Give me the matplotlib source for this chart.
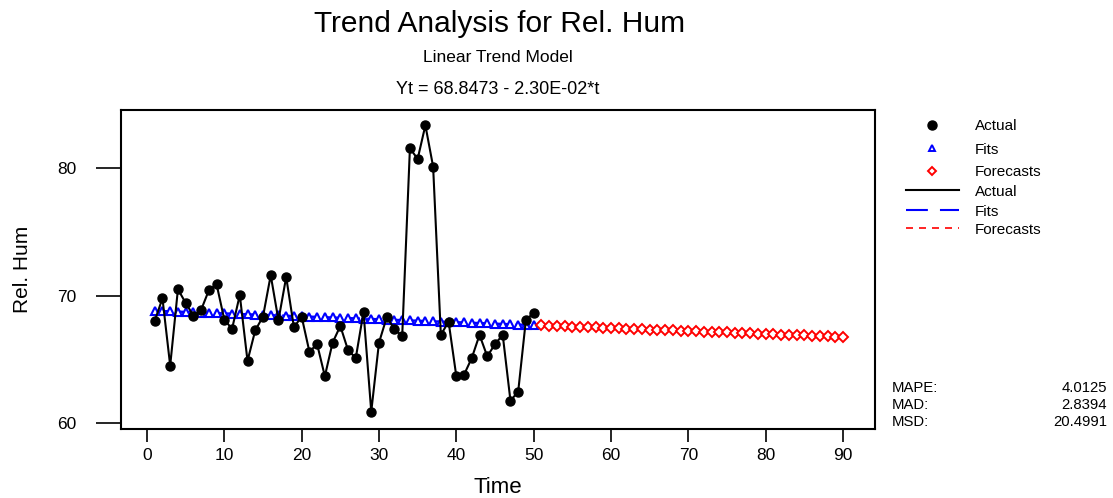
import matplotlib
matplotlib.use("Agg")
import matplotlib.pyplot as plt
import numpy as np
from matplotlib.lines import Line2D

plt.rcParams['font.family'] = ['Liberation Sans', 'DejaVu Sans']

# ---- data ----
time_actual = list(range(1, 51))
rel_hum = [68.02, 69.80, 64.52, 70.51, 69.44, 68.44, 68.89, 70.43, 70.90, 68.13,
           67.40, 70.06, 64.89, 67.29, 68.36, 71.61, 68.08, 71.47, 67.53, 68.36,
           65.62, 66.20, 63.69, 66.32, 67.63, 65.73, 65.12, 68.73, 60.91, 66.32,
           68.31, 67.40, 66.82, 81.57, 80.73, 83.37, 80.13, 66.93, 67.97, 63.69,
           63.81, 65.12, 66.93, 65.25, 66.20, 66.93, 61.77, 62.48, 68.13, 68.63]
intercept = 68.8473
slope = -2.30e-02
time_forecast = list(range(51, 91))
fits = [68.8473 - 0.0230 * t for t in time_actual]
forecasts = [68.8473 - 0.0230 * t for t in time_forecast]
xticks = [0, 10, 20, 30, 40, 50, 60, 70, 80, 90]
yticks = [60, 70, 80]
accuracy_names = ["MAPE:", "MAD:", "MSD:"]
accuracy_values = ["4.0125", "2.8394", "20.4991"]

W, H = 1113, 498
fig = plt.figure(figsize=(W / 100, H / 100), dpi=100)

def fx(x):
    return x / W

def fy(y):
    return 1 - y / H

L, R, T, B = 121, 875, 110, 429
ax = fig.add_axes([fx(L), fy(B), (R - L) / W, (B - T) / H])

ax.plot(time_actual, rel_hum, color='black', lw=1.5, marker='o', ms=6.5,
        mfc='black', mec='black', zorder=3)
ax.plot(time_actual, fits, color='blue', lw=1.7, ls=(0, (6, 3)), marker='^',
        ms=5.5, mfc='white', mec='blue', mew=1.5, zorder=2)
ax.plot(time_forecast, forecasts, color='red', lw=1.2, ls=(0, (3, 3)), marker='D',
        ms=5, mfc='white', mec='red', mew=1.4, zorder=2)

ax.set_xlim(-3.36, 94.14)
ax.set_ylim(59.55, 84.57)
ax.set_xticks(xticks)
ax.set_yticks(yticks)
for s in ax.spines.values():
    s.set_linewidth(1.5)
ax.tick_params(axis='x', length=9, width=1.2, pad=5, labelsize=12.5)
ax.tick_params(axis='y', length=18, width=1.2, pad=14, labelsize=12.5)

ax.set_xlabel("Time", fontsize=16, labelpad=10)
ax.set_ylabel("Rel. Hum", fontsize=15, labelpad=18)

# titles
fig.text(fx(500), fy(32), "Trend Analysis for Rel. Hum", fontsize=21.5,
         ha='center', va='baseline')
fig.text(fx(497.5), fy(62), "Linear Trend Model", fontsize=12.5,
         ha='center', va='baseline')
fig.text(fx(498), fy(94), "Yt = 68.8473 - 2.30E-02*t", fontsize=13,
         ha='center', va='baseline')

# legend (manual)
leg_rows = [125, 148, 171, 190, 210, 228]
mx = 932
fig.add_artist(Line2D([fx(mx)], [fy(leg_rows[0])], marker='o', ms=6.5,
                      mfc='black', mec='black', ls='none'))
fig.add_artist(Line2D([fx(mx)], [fy(leg_rows[1])], marker='^', ms=5,
                      mfc='white', mec='blue', mew=1.4, ls='none'))
fig.add_artist(Line2D([fx(mx)], [fy(leg_rows[2])], marker='D', ms=4.5,
                      mfc='white', mec='red', mew=1.4, ls='none'))
fig.add_artist(Line2D([fx(906), fx(959)], [fy(leg_rows[3])] * 2, color='black', lw=1.5))
fig.add_artist(Line2D([fx(906), fx(959)], [fy(leg_rows[4])] * 2, color='blue', lw=1.5,
                      ls=(0, (10.5, 5.8))))
fig.add_artist(Line2D([fx(906), fx(959)], [fy(leg_rows[5])] * 2, color='red', lw=1.2,
                      ls=(0, (4.2, 3.6))))
for yy, lab in zip(leg_rows, ["Actual", "Fits", "Forecasts", "Actual", "Fits", "Forecasts"]):
    fig.text(fx(975), fy(yy + 5.5), lab, fontsize=11, ha='left', va='baseline')

# accuracy measures
for i, (n, v) in enumerate(zip(accuracy_names, accuracy_values)):
    yy = 392 + 17 * i
    fig.text(fx(892), fy(yy), n, fontsize=10.7, ha='left', va='baseline')
    fig.text(fx(1107), fy(yy), v, fontsize=10.7, ha='right', va='baseline')

fig.savefig("out.png", dpi=100)
